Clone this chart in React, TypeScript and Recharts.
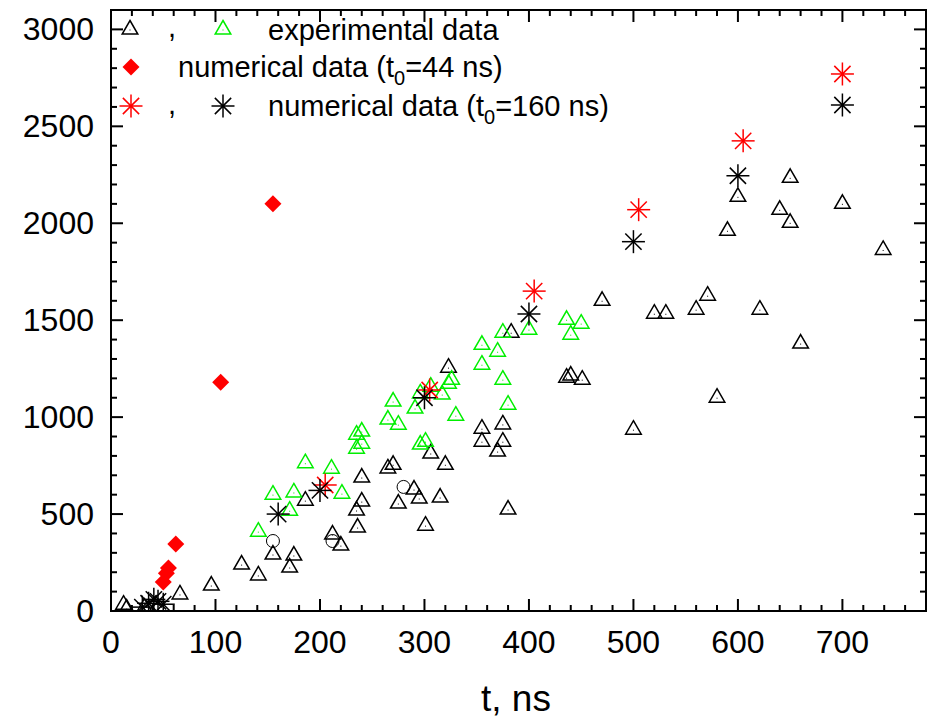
import React from "react";
import { ScatterChart, Scatter, XAxis, YAxis, ReferenceArea } from "recharts";

// ---- data ----
const blackTriangles: [number, number][] = [
  [12, 40], [15, 20], [32, 25], [66, 93], [96, 139], [125, 247], [141, 191], [155, 299], [171, 232], [175, 294],
  [186, 577], [212, 402], [220, 345], [236, 438], [235, 526], [240, 572], [240, 696], [265, 743], [270, 762],
  [275, 562], [290, 634], [295, 588], [301, 448], [306, 820], [315, 593], [320, 762], [323, 1263], [355, 948],
  [355, 881], [370, 830], [375, 970], [375, 881], [380, 531], [383, 1443], [436, 1211], [440, 1222], [451, 1201],
  [470, 1608], [500, 943], [520, 1541], [531, 1541], [560, 1562], [571, 1634], [580, 1108], [590, 1969],
  [600, 2144], [621, 1562], [640, 2077], [650, 2242], [650, 2010], [660, 1387], [700, 2108], [739, 1870],
];
const blackCircles: [number, number][] = [[155, 361], [212, 361], [280, 640]];
const greenTriangles: [number, number][] = [
  [141, 417], [155, 608], [171, 525], [175, 619], [186, 770], [211, 742], [221, 613], [235, 845], [240, 871],
  [235, 917], [240, 933], [265, 995], [275, 969], [270, 1088], [291, 1052], [296, 866], [301, 881], [296, 1130],
  [306, 1165], [317, 1124], [323, 1180], [326, 1201], [330, 1015], [355, 1278], [355, 1381], [370, 1345],
  [375, 1443], [375, 1201], [380, 1072], [400, 1459], [436, 1510], [440, 1433], [450, 1490],
];
const redDiamonds: [number, number][] = [[50, 150], [53, 195], [55, 222], [62, 345], [105, 1180], [155, 2100]];
const redStars: [number, number][] = [[205, 650], [305, 1140], [405, 1650], [505, 2070], [605, 2425], [700, 2770]];
const blackStars: [number, number][] = [
  [30, 20], [36, 40], [41, 60], [45, 50], [50, 35], [160, 500], [200, 622], [300, 1100], [400, 1532], [500, 1905],
  [600, 2245], [700, 2610],
];
const xTicks: number[] = Array.from({ length: 40 }, (_, i) => i * 20);
const yTicks: number[] = Array.from({ length: 32 }, (_, i) => i * 100);
const xTitle = "t, ns";
const legendExp = "experimental data";
const legendNum44 = ["numerical data (t", "0", "=44 ns)"];
const legendNum160 = ["numerical data (t", "0", "=160 ns)"];

const toObj = (arr: [number, number][]) => arr.map(([x, y]) => ({ x, y }));

// ---- layout ----
const W = 928;
const H = 720;
const PLOT = { left: 111, top: 10, right: 926, bottom: 611 };
const FONT = "'Liberation Sans', Arial, sans-serif";

// ---- markers ----
const Tri = ({ cx, cy, color }: any) => (
  <g>
    <path
      d={`M${cx},${cy - 7.5} L${cx + 7.8},${cy + 6} L${cx - 7.8},${cy + 6} Z`}
      fill="none"
      stroke={color}
      strokeWidth={1.5}
      strokeLinejoin="miter"
    />
    <rect x={cx - 0.5} y={cy + 1.5} width={1} height={1} fill={color} />
  </g>
);
const Circ = ({ cx, cy }: any) => <circle cx={cx} cy={cy} r={6.5} fill="none" stroke="#000" strokeWidth={1} />;
const Diamond = ({ cx, cy }: any) => (
  <path d={`M${cx},${cy - 8.5} L${cx + 8.5},${cy} L${cx},${cy + 8.5} L${cx - 8.5},${cy} Z`} fill="#ff0000" />
);
const Star = ({ cx, cy, color }: any) => {
  const r = 11.5;
  const d = r * 0.7071;
  return (
    <g stroke={color} strokeWidth={1.5}>
      <line x1={cx - r} y1={cy} x2={cx + r} y2={cy} />
      <line x1={cx} y1={cy - r} x2={cx} y2={cy + r} />
      <line x1={cx - d} y1={cy - d} x2={cx + d} y2={cy + d} />
      <line x1={cx - d} y1={cy + d} x2={cx + d} y2={cy - d} />
      <circle cx={cx} cy={cy} r={1.6} fill={color} stroke="none" />
    </g>
  );
};

// ---- axis ticks ----
const XTick = (props: any) => {
  const { x, payload } = props;
  const v = payload.value;
  const major = v % 100 === 0;
  const len = major ? 12 : 6;
  return (
    <g>
      <line x1={x} x2={x} y1={PLOT.bottom} y2={PLOT.bottom - len} stroke="#000" strokeWidth={2} />
      <line x1={x} x2={x} y1={PLOT.top} y2={PLOT.top + len} stroke="#000" strokeWidth={2} />
      {major && v <= 700 && (
        <text x={x} y={653} textAnchor="middle" fontSize={32} fontFamily={FONT} fill="#000">
          {v}
        </text>
      )}
    </g>
  );
};
const YTick = (props: any) => {
  const { y, payload } = props;
  const v = payload.value;
  const major = v % 500 === 0;
  const len = major ? 12 : 6;
  return (
    <g>
      <line x1={PLOT.left} x2={PLOT.left + len} y1={y} y2={y} stroke="#000" strokeWidth={2} />
      <line x1={PLOT.right} x2={PLOT.right - len} y1={y} y2={y} stroke="#000" strokeWidth={2} />
      {major && (
        <text x={94} y={y + 11} textAnchor="end" fontSize={32} fontFamily={FONT} fill="#000">
          {v}
        </text>
      )}
    </g>
  );
};

const LegendOverlay = () => (
  <svg
    width={W}
    height={H}
    style={{ position: "absolute", left: 0, top: 0, pointerEvents: "none" }}
  >
    <g fontFamily={FONT} fontSize={29} fill="#000">
      <Tri cx={130} cy={28} color="#000" />
      <text x={168} y={37}>,</text>
      <Tri cx={223} cy={28} color="#00ee00" />
      <text x={268} y={40}>{legendExp}</text>

      <Diamond cx={131} cy={67} />
      <text x={178} y={77}>
        {legendNum44[0]}
        <tspan fontSize={20} dy={8}>{legendNum44[1]}</tspan>
        <tspan dy={-8}>{legendNum44[2]}</tspan>
      </text>

      <Star cx={131} cy={106} color="#ff0000" />
      <text x={168} y={114}>,</text>
      <Star cx={223} cy={106} color="#000" />
      <text x={268} y={116}>
        {legendNum160[0]}
        <tspan fontSize={20} dy={8}>{legendNum160[1]}</tspan>
        <tspan dy={-8}>{legendNum160[2]}</tspan>
      </text>
    </g>
  </svg>
);

export default function App() {
  return (
    <div style={{ position: "absolute", left: 0, top: 0, width: W, height: H, background: "#fff" }}>
      <ScatterChart width={W} height={H} margin={{ top: PLOT.top, right: W - PLOT.right, bottom: 0, left: 0 }}>
        <XAxis
          type="number"
          dataKey="x"
          domain={[0, 780]}
          ticks={xTicks}
          interval={0}
          allowDataOverflow
          axisLine={false}
          tickLine={false}
          height={H - PLOT.bottom}
          tick={<XTick />}
        />
        <YAxis
          type="number"
          dataKey="y"
          domain={[0, 3100]}
          ticks={yTicks}
          interval={0}
          allowDataOverflow
          axisLine={false}
          tickLine={false}
          width={PLOT.left}
          tick={<YTick />}
        />
        <ReferenceArea x1={0} x2={780} y1={0} y2={3100} fill="none" stroke="#000" strokeWidth={2} ifOverflow="visible" />
        <Scatter data={toObj(blackTriangles)} isAnimationActive={false} shape={(p: any) => <Tri cx={p.cx} cy={p.cy} color="#000" />} />
        <Scatter data={toObj(blackCircles)} isAnimationActive={false} shape={(p: any) => <Circ cx={p.cx} cy={p.cy} />} />
        <Scatter data={toObj(greenTriangles)} isAnimationActive={false} shape={(p: any) => <Tri cx={p.cx} cy={p.cy} color="#00ee00" />} />
        <Scatter data={toObj(redDiamonds)} isAnimationActive={false} shape={(p: any) => <Diamond cx={p.cx} cy={p.cy} />} />
        <Scatter data={toObj(redStars)} isAnimationActive={false} shape={(p: any) => <Star cx={p.cx} cy={p.cy} color="#ff0000" />} />
        <Scatter data={toObj(blackStars)} isAnimationActive={false} shape={(p: any) => <Star cx={p.cx} cy={p.cy} color="#000" />} />
      </ScatterChart>
      <svg width={W} height={H} style={{ position: "absolute", left: 0, top: 0, pointerEvents: "none" }}>
        <text x={516} y={711} textAnchor="middle" fontSize={37} fontFamily={FONT} fill="#000">
          {xTitle}
        </text>
      </svg>
      <LegendOverlay />
    </div>
  );
}
